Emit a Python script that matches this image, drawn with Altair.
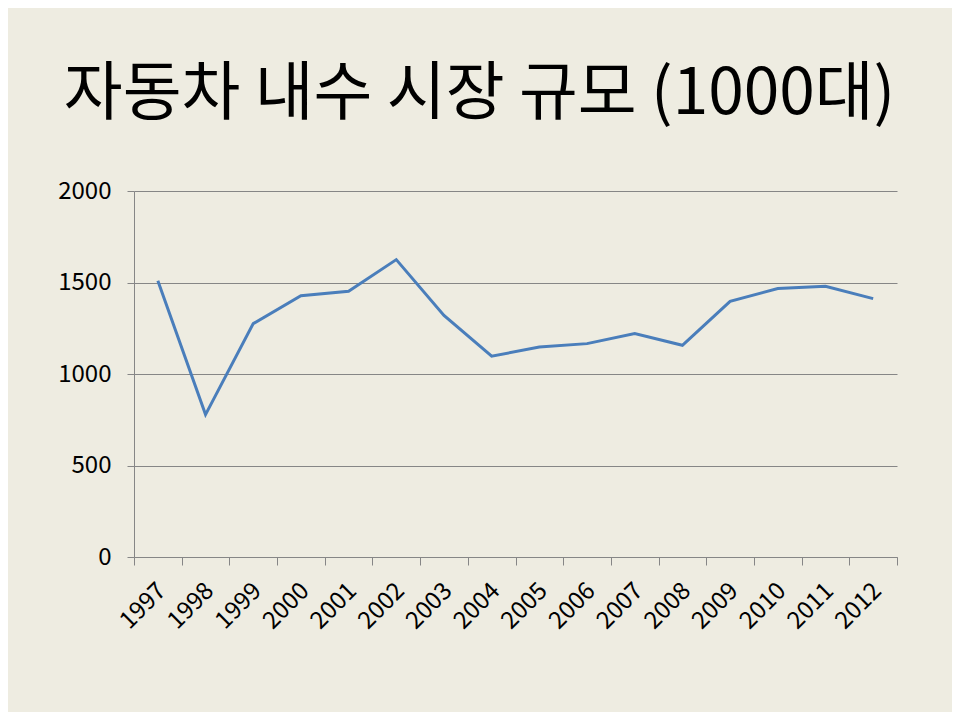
import altair as alt
import pandas as pd

years = ["1997", "1998", "1999", "2000", "2001", "2002", "2003", "2004",
         "2005", "2006", "2007", "2008", "2009", "2010", "2011", "2012"]
sales = [1510, 778, 1275, 1428, 1452, 1625, 1320, 1097,
         1148, 1166, 1221, 1157, 1397, 1467, 1479, 1412]
y_ticks = [0, 500, 1000, 1500, 2000]

df = pd.DataFrame({"year": years, "sales": sales})

FONT = "Noto Sans CJK KR"
GRID = "#868686"

chart = alt.Chart(df).mark_line(color="#4A7EBB", strokeWidth=3).encode(
    x=alt.X("year:N", sort=years, title=None,
            scale=alt.Scale(paddingInner=0, paddingOuter=0),
            axis=alt.Axis(labelAngle=-45, labelAlign="right", labelBaseline="middle",
                          labelFont=FONT, labelFontSize=24, labelColor="#000000",
                          tickBand="extent", tickSize=8, tickColor=GRID,
                          domainColor=GRID, labelPadding=22, labelOffset=4,
                          grid=False)),
    y=alt.Y("sales:Q", title=None,
            scale=alt.Scale(domain=[0, 2000], nice=False),
            axis=alt.Axis(values=y_ticks, labelFont=FONT, labelFontSize=24,
                          labelColor="#000000", tickSize=7, tickColor=GRID,
                          domainColor=GRID, gridColor=GRID, gridWidth=1,
                          labelPadding=16, format="d")),
).properties(
    width=763, height=366,
    autosize=alt.AutoSizeParams(type="none"),
    padding={"left": 126, "top": 183, "right": 55, "bottom": 155},
    background="#EEECE1",
    title=alt.TitleParams("자동차 내수 시장 규모 (1000대)", font=FONT, fontSize=64,
                          fontWeight="normal", color="#000000", anchor="middle",
                          frame="group", dx=-36, offset=52),
).configure_view(stroke=None)

chart.save("out.html", embed_options={"renderer": "svg", "actions": False})
